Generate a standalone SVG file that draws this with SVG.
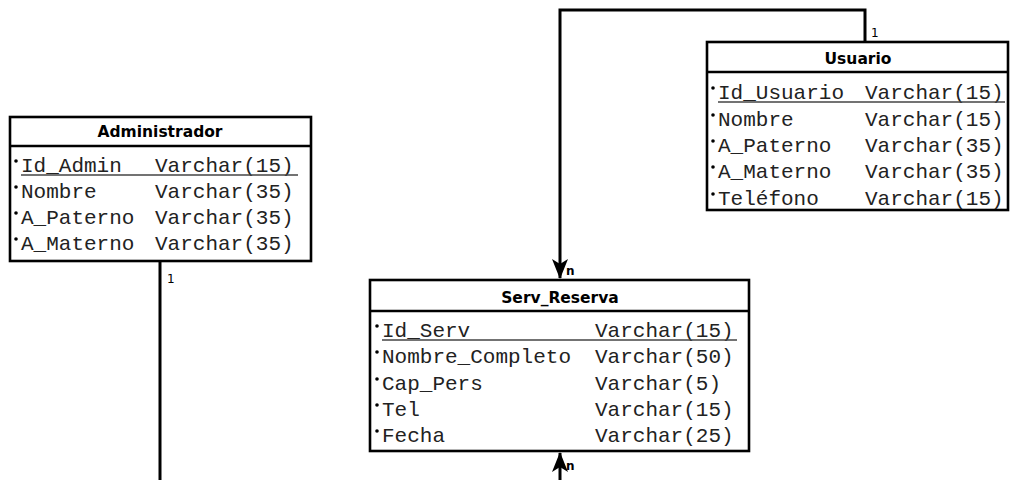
<svg xmlns="http://www.w3.org/2000/svg" width="1010" height="480" viewBox="0 0 1010 480">
<defs>
<style>
.box{fill:#fff;stroke:#000;stroke-width:2.6}
.hdr{stroke:#000;stroke-width:2.6}
.title{font-family:"DejaVu Sans",Verdana,sans-serif;font-weight:bold;font-size:15.5px;text-anchor:middle;fill:#000}
.row{font-family:"Courier New","Nimbus Mono PS","FreeMono","Liberation Mono",monospace;font-size:21px;fill:#222}
.pk{stroke:#444;stroke-width:1.6}
.dot{fill:#000}
.conn{fill:none;stroke:#000;stroke-width:3}
.lbl{font-family:"DejaVu Sans",sans-serif;font-size:12px;fill:#000}
</style>
<marker id="arr" viewBox="0 0 20 16" refX="19" refY="8" markerWidth="20" markerHeight="16" markerUnits="userSpaceOnUse" orient="auto">
<path d="M0,0 L20,8 L0,16 L5,8 Z" fill="#000"/>
</marker>
</defs>
<rect width="1010" height="480" fill="#fff"/>
<g id="connectors">
<path class="conn" d="M865,42 V10 H560 V278" marker-end="url(#arr)"/>
<path class="conn" d="M160,261 V480"/>
<path class="conn" d="M560,480 V453" marker-end="url(#arr)"/>
<text class="lbl" x="871" y="37">1</text>
<text class="lbl" x="566" y="275" font-weight="bold">n</text>
<text class="lbl" x="167" y="283">1</text>
<text class="lbl" x="566" y="470" font-weight="bold">n</text>
</g>
<g id="administrador">
<rect class="box" x="10" y="117" width="301" height="144"/>
<line class="hdr" x1="10" y1="146" x2="311" y2="146"/>
<text class="title" x="160" y="137">Administrador</text>
<circle class="dot" cx="16" cy="161" r="1.8"/>
<circle class="dot" cx="16" cy="187" r="1.8"/>
<circle class="dot" cx="16" cy="213" r="1.8"/>
<circle class="dot" cx="16" cy="239" r="1.8"/>
<text class="row" x="21" y="172">Id_Admin</text><text class="row" x="155" y="172">Varchar(15)</text>
<line class="pk" x1="21" y1="175" x2="298" y2="175"/>
<text class="row" x="21" y="198">Nombre</text><text class="row" x="155" y="198">Varchar(35)</text>
<text class="row" x="21" y="224">A_Paterno</text><text class="row" x="155" y="224">Varchar(35)</text>
<text class="row" x="21" y="250">A_Materno</text><text class="row" x="155" y="250">Varchar(35)</text>
</g>
<g id="usuario">
<rect class="box" x="707" y="42" width="301" height="168"/>
<line class="hdr" x1="707" y1="72" x2="1008" y2="72"/>
<text class="title" x="858" y="64">Usuario</text>
<circle class="dot" cx="713" cy="88" r="1.8"/>
<circle class="dot" cx="713" cy="115" r="1.8"/>
<circle class="dot" cx="713" cy="141" r="1.8"/>
<circle class="dot" cx="713" cy="167" r="1.8"/>
<circle class="dot" cx="713" cy="194" r="1.8"/>
<text class="row" x="718" y="99">Id_Usuario</text><text class="row" x="865" y="99">Varchar(15)</text>
<line class="pk" x1="718" y1="102" x2="1005" y2="102"/>
<text class="row" x="718" y="126">Nombre</text><text class="row" x="865" y="126">Varchar(15)</text>
<text class="row" x="718" y="152">A_Paterno</text><text class="row" x="865" y="152">Varchar(35)</text>
<text class="row" x="718" y="178">A_Materno</text><text class="row" x="865" y="178">Varchar(35)</text>
<text class="row" x="718" y="205">Teléfono</text><text class="row" x="865" y="205">Varchar(15)</text>
</g>
<g id="serv_reserva">
<rect class="box" x="370" y="280" width="379" height="171"/>
<line class="hdr" x1="370" y1="311" x2="749" y2="311"/>
<text class="title" x="560" y="303">Serv_Reserva</text>
<circle class="dot" cx="377" cy="326" r="1.8"/>
<circle class="dot" cx="377" cy="352" r="1.8"/>
<circle class="dot" cx="377" cy="379" r="1.8"/>
<circle class="dot" cx="377" cy="405" r="1.8"/>
<circle class="dot" cx="377" cy="431" r="1.8"/>
<text class="row" x="382" y="337">Id_Serv</text><text class="row" x="595" y="337">Varchar(15)</text>
<line class="pk" x1="382" y1="340" x2="737" y2="340"/>
<text class="row" x="382" y="363">Nombre_Completo</text><text class="row" x="595" y="363">Varchar(50)</text>
<text class="row" x="382" y="390">Cap_Pers</text><text class="row" x="595" y="390">Varchar(5)</text>
<text class="row" x="382" y="416">Tel</text><text class="row" x="595" y="416">Varchar(15)</text>
<text class="row" x="382" y="442">Fecha</text><text class="row" x="595" y="442">Varchar(25)</text>
</g>
</svg>
